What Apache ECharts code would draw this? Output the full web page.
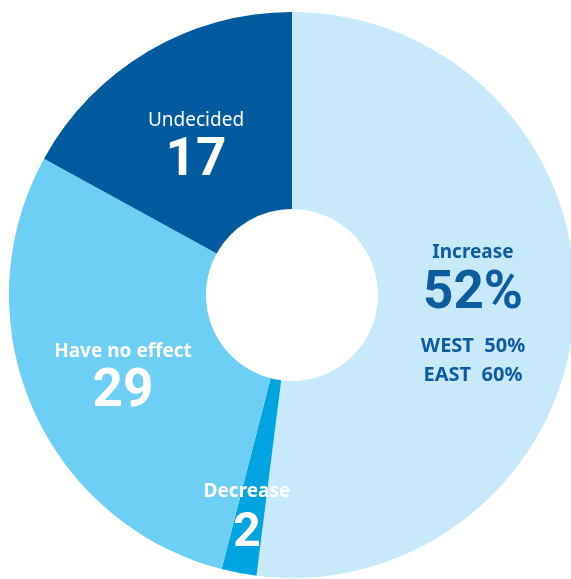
<!DOCTYPE html>
<html>
<head>
<meta charset="utf-8">
<script src="https://cdn.jsdelivr.net/npm/echarts@6/dist/echarts.min.js"></script>
<style>
  html, body { margin: 0; padding: 0; background: #fff; }
  #chart { width: 571px; height: 579px; }
</style>
</head>
<body>
<div id="chart"></div>
<script>
// data
const categories = ['Increase', 'Decrease', 'Have no effect', 'Undecided'];
const values = [52, 2, 29, 17];
const valueLabels = ['52%', '2', '29', '17'];
const regions = ['WEST', 'EAST'];
const regionIncrease = [50, 60];

const sliceColors = ['#c7e9f9', '#00a4e1', '#6dcff6', '#005a9e'];
const textColors = ['#0d5ca0', '#ffffff', '#ffffff', '#ffffff'];
// label block centres (px)
const labelPos = [[473, 314], [247, 519], [123, 379], [196, 148]];

const chart = echarts.init(document.getElementById('chart'));

const sansFont = '"Noto Sans", "Open Sans", sans-serif';
const numFont = 'Roboto, "Noto Sans", sans-serif';

function richFor(i) {
    const c = textColors[i];
    return {
        name: { fontFamily: sansFont, fontSize: 19, fontWeight: i === 3 ? 'normal' : 'bold', color: c, lineHeight: i === 1 ? 30 : 28 },
        nameBig: { fontFamily: sansFont, fontSize: 19, fontWeight: 'bold', color: c, lineHeight: 30 },
        big: { fontFamily: numFont, fontSize: i === 1 ? 48 : 53, fontWeight: 'bold', color: c, lineHeight: 54 },
        gap: { fontSize: 4, lineHeight: 10 },
        sub: { fontFamily: sansFont, fontSize: 20, fontWeight: 'bold', color: c, lineHeight: 29 }
    };
}

const data = categories.map((name, i) => {
    let text;
    if (i === 0) {
        const subs = regions.map((r, k) => '{sub|' + r + '  ' + regionIncrease[k] + '%}');
        text = '{nameBig|' + name + '}\n{big|' + valueLabels[i] + '}\n{gap| }\n' + subs.join('\n');
    } else {
        text = '{name|' + name + '}\n{big|' + valueLabels[i] + '}';
    }
    return {
        name: name,
        value: values[i],
        itemStyle: { color: sliceColors[i] },
        label: { formatter: text, rich: richFor(i) }
    };
});

chart.setOption({
    animation: false,
    series: [{
        type: 'pie',
        center: [292, 295],
        radius: [86, 283],
        startAngle: 90,
        clockwise: true,
        silent: true,
        avoidLabelOverlap: false,
        itemStyle: { borderWidth: 0 },
        label: { show: true, position: 'inside', align: 'center' },
        labelLine: { show: false },
        labelLayout: function (params) {
            const p = labelPos[params.dataIndex];
            return { x: p[0], y: p[1], align: 'center', verticalAlign: 'middle' };
        },
        data: data
    }]
});
</script>
</body>
</html>
